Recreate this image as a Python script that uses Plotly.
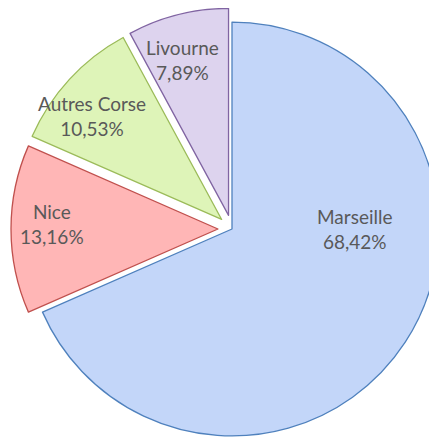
import plotly.graph_objects as go

labels = ["Marseille", "Nice", "Autres Corse", "Livourne"]
values = [26, 5, 4, 3]
fill_colors = ["#c3d6f9", "#ffb6b6", "#def4b8", "#ddd3ee"]
line_colors = ["#4f81bd", "#c0504d", "#9bbb59", "#8064a2"]
pulls = [0, 0.068, 0.068, 0.068]

W, H = 448, 442
PAGE_OFFSET = 8  # default body margin of the written page
# label block centres in screen pixels
label_px = [(354, 229), (52, 224), (92, 116), (182, 60)]

total = sum(values)

fig = go.Figure(go.Pie(
    labels=labels,
    values=values,
    sort=False,
    direction="clockwise",
    rotation=0,
    pull=pulls,
    domain=dict(x=[0, 1], y=[0, 1]),
    marker=dict(colors=fill_colors, line=dict(color=line_colors, width=1.3)),
    textinfo="none",
    showlegend=False,
    hoverinfo="label+percent",
))

for lab, v, (px, py) in zip(labels, values, label_px):
    pct = f"{100 * v / total:.2f}".replace(".", ",") + "%"
    fig.add_annotation(
        x=(px - PAGE_OFFSET) / W, y=1 - (py - PAGE_OFFSET) / H,
        xref="paper", yref="paper",
        text=f"{lab}<br>{pct}", showarrow=False,
        xanchor="center", yanchor="middle",
        font=dict(family="Lato, Open Sans, sans-serif", size=19, color="#595959"),
    )

fig.update_layout(
    width=W,
    height=H,
    margin=dict(l=0, r=0, t=0, b=0),
    paper_bgcolor="white",
    separators=", ",
)

fig.write_html("out.html")
